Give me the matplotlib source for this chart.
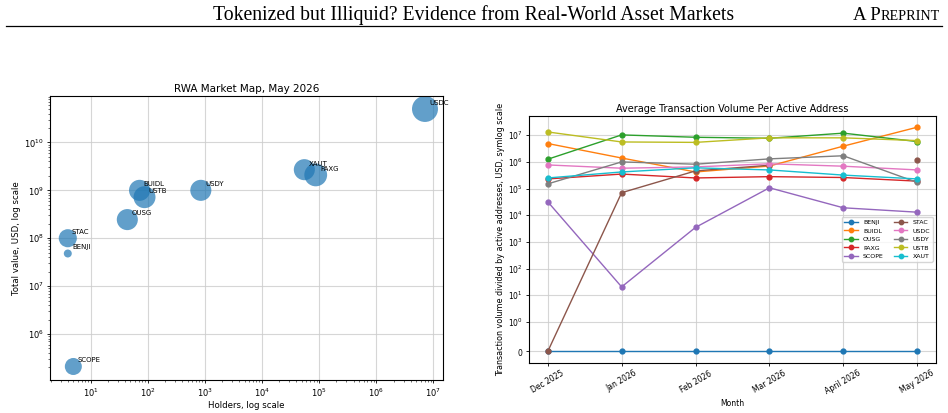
import numpy as np
import matplotlib
matplotlib.use("Agg")
import matplotlib.pyplot as plt

# ---------- data ----------
assets = ["USDC", "XAUT", "PAXG", "BUIDL", "USTB", "USDY", "OUSG", "STAC", "BENJI", "SCOPE"]
holders = [7.1e6, 5.5e4, 8.7e4, 72, 88, 850, 44, 4, 4, 5]
total_value = [5.0e10, 2.7e9, 2.1e9, 1.0e9, 7.2e8, 1.0e9, 2.45e8, 1.0e8, 4.8e7, 2.1e5]
bubble_size = [350, 230, 270, 230, 250, 230, 230, 170, 33, 150]

months = ["Dec 2025", "Jan 2026", "Feb 2026", "Mar 2026", "April 2026", "May 2026"]
series_names = ["BENJI", "BUIDL", "OUSG", "PAXG", "SCOPE", "STAC", "USDC", "USDY", "USTB", "XAUT"]
BENJI = [0, 0, 0, 0, 0, 0]
BUIDL = [4.9e6, 1.4e6, 4.2e5, 7.0e5, 3.9e6, 2.0e7]
OUSG = [1.26e6, 1.03e7, 8.4e6, 7.7e6, 1.2e7, 5.8e6]
PAXG = [2.3e5, 3.5e5, 2.5e5, 2.8e5, 2.6e5, 1.9e5]
SCOPE = [3.2e4, 20.5, 3.5e3, 1.07e5, 1.9e4, 1.3e4]
STAC = [0, 7.0e4, 4.6e5, 7.5e5, np.nan, 1.2e6]
USDC = [7.7e5, 5.8e5, 6.5e5, 8.5e5, 6.9e5, 5.0e5]
USDY = [1.5e5, 1.0e6, 8.2e5, 1.3e6, 1.7e6, 1.7e5]
USTB = [1.33e7, 5.6e6, 5.4e6, 8.0e6, 8.0e6, 6.3e6]
XAUT = [2.5e5, 4.2e5, 6.0e5, 5.0e5, 3.2e5, 2.3e5]
series_values = [BENJI, BUIDL, OUSG, PAXG, SCOPE, STAC, USDC, USDY, USTB, XAUT]

header_title = "Tokenized but Illiquid? Evidence from Real-World Asset Markets"
holder_ticks = [1e1, 1e2, 1e3, 1e4, 1e5, 1e6, 1e7]
value_ticks = [1e6, 1e7, 1e8, 1e9, 1e10]

# ---------- figure ----------
fig = plt.figure(figsize=(9.48, 4.13), dpi=100)

# page header
fig.text(0.4995, 0.951, header_title, ha="center", va="baseline",
         family="Liberation Serif", fontsize=14.2)
renderer = fig.canvas.get_renderer()
t2 = fig.text(0.9915, 0.951, "REPRINT", ha="right", va="baseline",
              family="Liberation Serif", fontsize=10.2)
bb = t2.get_window_extent(renderer)
x0 = bb.x0 / fig.bbox.width
fig.text(x0, 0.951, "A P", ha="right", va="baseline",
         family="Liberation Serif", fontsize=13.5)
fig.add_artist(plt.Line2D([0.006, 0.994], [0.936, 0.936], color="black", lw=0.9,
                          transform=fig.transFigure))

# left: market map
ax1 = fig.add_axes([0.0527, 0.0799, 0.467 - 0.0527, 0.7676 - 0.0799])
ax1.scatter(holders, total_value, s=bubble_size, alpha=0.7, color="C0", edgecolors="none")
for name, x, y in zip(assets, holders, total_value):
    ax1.annotate(name, (x, y), xytext=(3, 3), textcoords="offset points", fontsize=5)
ax1.set_xscale("log")
ax1.set_yscale("log")
ax1.set_xticks(holder_ticks)
ax1.set_yticks(value_ticks)
ax1.set_xlim(1.95, 1.45e7)
ax1.set_ylim(10 ** 5.04, 10 ** 10.97)
ax1.set_title("RWA Market Map, May 2026", fontsize=7.5, pad=3)
ax1.set_xlabel("Holders, log scale", fontsize=6.2, labelpad=2)
ax1.set_ylabel("Total value, USD, log scale", fontsize=6.2, labelpad=2)
ax1.tick_params(labelsize=6, length=2.5, width=0.6, pad=2)
ax1.tick_params(which="minor", length=1.5, width=0.4)
ax1.grid(True, color="#cccccc", linewidth=0.8, alpha=0.8)
ax1.set_axisbelow(True)

# right: transaction volume
ax2 = fig.add_axes([0.5583, 0.1218, 0.987 - 0.5583, 0.7191 - 0.1218])
xs = np.arange(len(months))
for name, vals in zip(series_names, series_values):
    ax2.plot(xs, vals, marker="o", markersize=3.5, linewidth=1, label=name)
ax2.set_yscale("symlog", linthresh=1)
ax2.set_xticks(xs)
ax2.set_xticklabels(months, rotation=30)
ax2.set_title("Average Transaction Volume Per Active Address", fontsize=7, pad=3)
ax2.set_xlabel("Month", fontsize=5.5, labelpad=2)
ax2.set_ylabel("Transaction volume divided by active addresses, USD, symlog scale", fontsize=5.8, labelpad=2)
ax2.tick_params(labelsize=5.5, length=2.5, width=0.6, pad=2)
ax2.grid(True, color="#cccccc", linewidth=0.8, alpha=0.8)
ax2.set_axisbelow(True)
ax2.legend(loc="center right", ncol=2, fontsize=4.5, markerscale=0.9,
           handlelength=2.2, columnspacing=1.6, labelspacing=0.5, borderpad=0.4)

fig.savefig("out.png", dpi=100)
